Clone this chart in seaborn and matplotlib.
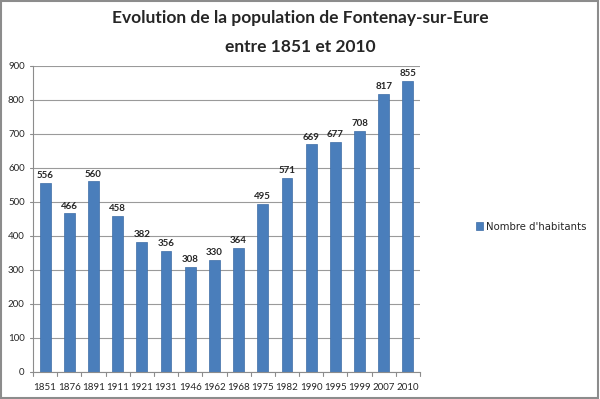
import matplotlib
matplotlib.use("Agg")
import matplotlib.pyplot as plt
import seaborn as sns
import pandas as pd

annees = ["1851", "1876", "1891", "1911", "1921", "1931", "1946", "1962",
          "1968", "1975", "1982", "1990", "1995", "1999", "2007", "2010"]
habitants = [556, 466, 560, 458, 382, 356, 308, 330,
             364, 495, 571, 669, 677, 708, 817, 855]

df = pd.DataFrame({"annee": annees, "habitants": habitants,
                   "serie": "Nombre d'habitants"})

sns.set_style("white")
plt.rcParams["font.family"] = ["Lato", "DejaVu Sans"]

fig = plt.figure(figsize=(6, 3.99), dpi=100)
ax = fig.add_axes([0.055, 0.068, 0.645, 0.767])

sns.barplot(data=df, x="annee", y="habitants", hue="serie", ax=ax,
            palette=["#4a7ebb"], width=0.45, saturation=1, edgecolor="#3e6da6",
            linewidth=0.5)

for cont in ax.containers:
    ax.bar_label(cont, fmt="%d", fontsize=7, fontweight="bold", padding=2)

ax.set_ylim(0, 900)
ax.set_yticks(range(0, 901, 100))
ax.set_xlim(-0.5, len(annees) - 0.5)
ax.yaxis.grid(True, color="#9a9a9a", linewidth=0.8)
ax.set_axisbelow(True)
ax.set_xlabel("")
ax.set_ylabel("")
ax.tick_params(axis="both", labelsize=7, length=0)
ax.tick_params(axis="x", pad=8)
ax.tick_params(axis="y", pad=6)
for s in ["top", "right"]:
    ax.spines[s].set_visible(False)
ax.spines["left"].set_color("#8c8c8c")
ax.spines["bottom"].set_color("#8c8c8c")

# petites graduations entre catégories
for i in range(len(annees) + 1):
    ax.plot([i - 0.5, i - 0.5], [0, -12], color="#8c8c8c", lw=0.8, clip_on=False)
for v in range(0, 901, 100):
    ax.plot([-0.5 - 0.12, -0.5], [v, v], color="#8c8c8c", lw=0.8, clip_on=False)

leg = ax.legend(loc="center left", bbox_to_anchor=(1.12, 0.475), frameon=False,
                prop={"family": "DejaVu Sans", "size": 7.3},
                handlelength=0.7, handleheight=0.7, handletextpad=0.3)

fig.text(0.5, 0.955, "Evolution de la population de Fontenay-sur-Eure",
         ha="center", va="center", fontsize=12.5, fontweight="bold")
fig.text(0.5, 0.883, "entre 1851 et 2010",
         ha="center", va="center", fontsize=12.5, fontweight="bold")

fig.patches.append(plt.Rectangle((0.002, 0.003), 0.995, 0.994, transform=fig.transFigure,
                                 fill=False, edgecolor="#8c8c8c", linewidth=1.5))

fig.savefig("out.png", dpi=100)
